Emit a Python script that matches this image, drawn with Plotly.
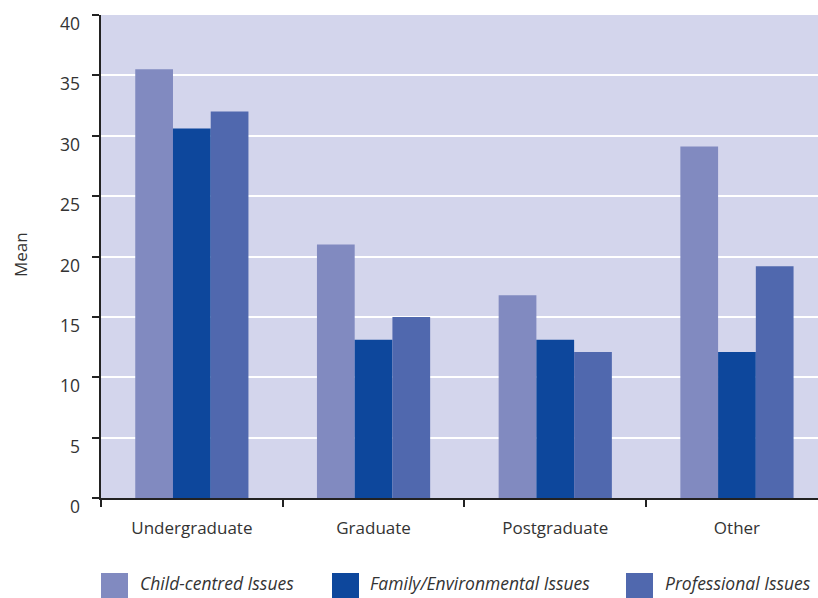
import plotly.graph_objects as go

categories = ["Undergraduate", "Graduate", "Postgraduate", "Other"]
series_names = ["Child-centred Issues", "Family/Environmental Issues", "Professional Issues"]
child_centred = [35.5, 21.0, 16.8, 29.1]
family_environmental = [30.6, 13.1, 13.1, 12.1]
professional = [32.0, 15.0, 12.1, 19.2]
y_ticks = [0, 5, 10, 15, 20, 25, 30, 35, 40]
y_title = "Mean"

colors = ["#818AC0", "#0D479C", "#5068AE"]
series_values = [child_centred, family_environmental, professional]

W, H = 818, 598
L, T, B = 101, 15, 100
PW = W - L
PH = H - T - B
FONT = "Open Sans"
TXT = "#333333"

fig = go.Figure()
for name, vals, c in zip(series_names, series_values, colors):
    fig.add_trace(go.Bar(x=categories, y=vals, name=name, marker=dict(color=c, line=dict(width=0)),
                         showlegend=False))

def px_x(p):
    return (p - L) / PW

def px_y(p):
    return (H - B - p) / PH

# y tick labels (placed just below each tick, as in the reference)
for v in y_ticks:
    fig.add_annotation(xref="paper", yref="y", x=0, y=v, xanchor="right", yanchor="middle",
                       xshift=-19, yshift=-8, showarrow=False, text=str(v),
                       font=dict(family=FONT, size=17.5, color=TXT))

# y axis title
fig.add_annotation(xref="paper", yref="paper", x=px_x(20), y=px_y(255), xanchor="center",
                   yanchor="middle", textangle=-90, showarrow=False, text=y_title,
                   font=dict(family=FONT, size=17, color=TXT))

# legend
legend_sq = [(101, 128), (332, 359), (626, 653)]
legend_tx = [138, 368, 663]
for (x0, x1), tx, name, c in zip(legend_sq, legend_tx, series_names, colors):
    fig.add_shape(type="rect", xref="paper", yref="paper",
                  x0=px_x(x0), x1=px_x(x1), y0=px_y(573), y1=px_y(600),
                  fillcolor=c, line=dict(width=0))
    fig.add_annotation(xref="paper", yref="paper", x=px_x(tx), y=px_y(583),
                       xanchor="left", yanchor="middle", showarrow=False,
                       text="<i>" + name + "</i>", font=dict(family=FONT, size=17.5, color=TXT))

fig.update_layout(
    width=W, height=H,
    margin=dict(l=L, r=0, t=T, b=B, pad=0),
    paper_bgcolor="white",
    plot_bgcolor="#D3D5EC",
    barmode="group", bargap=0.377, bargroupgap=0,
    font=dict(family=FONT, size=17, color=TXT),
    xaxis=dict(range=[-0.5, 3.446], tickson="boundaries", ticks="outside", ticklen=7, tickwidth=2,
               tickcolor="#222222", showline=True, linecolor="#222222", linewidth=2,
               showgrid=False, tickfont=dict(size=17, color=TXT), ticklabelstandoff=14),
    yaxis=dict(range=[0, 40], tickvals=y_ticks, ticks="outside", ticklen=7, tickwidth=2,
               tickcolor="#222222", showline=True, linecolor="#222222", linewidth=2,
               showgrid=True, gridcolor="white", gridwidth=2, zeroline=False,
               showticklabels=False),
)

fig.write_html("out.html")
